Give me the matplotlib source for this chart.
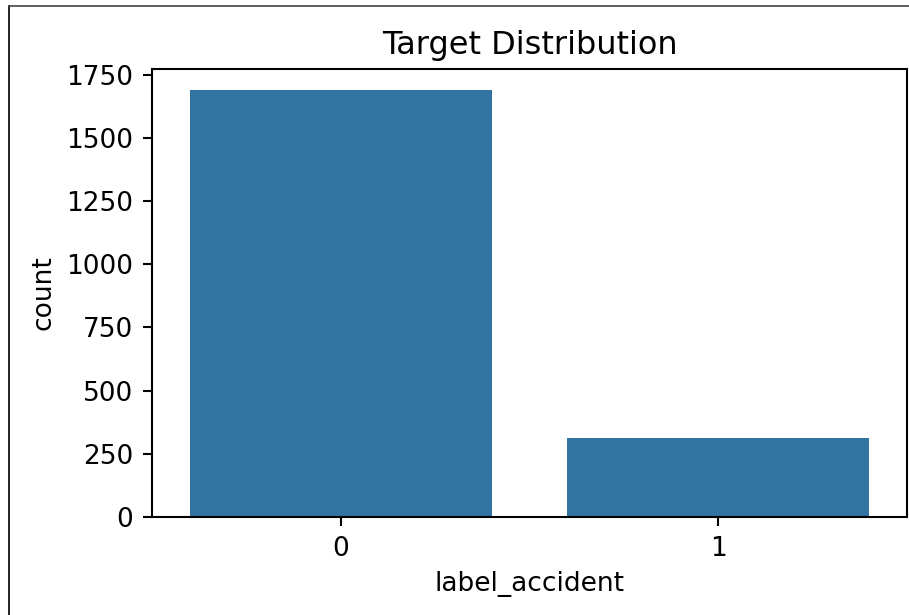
import matplotlib
matplotlib.use("Agg")
import matplotlib.pyplot as plt
from matplotlib.lines import Line2D

categories = ["0", "1"]
counts = [1688, 313]
title = "Target Distribution"
xlabel = "label_accident"
ylabel = "count"

fig = plt.figure(figsize=(9.09, 6.15), dpi=100)
ax = fig.add_axes([0.1672, 0.1593, 0.8306, 0.7285])
x = list(range(len(categories)))
ax.bar(x, counts, width=0.8, color="#3274a1")
ax.set_xlim(-0.5, 1.5)
ax.set_xticks(x)
ax.set_xticklabels(categories)
ax.set_yticks([0, 250, 500, 750, 1000, 1250, 1500, 1750])
ax.set_ylim(0, 1772)
ax.tick_params(labelsize=19, length=6.7, width=1.5, pad=6.7)
for s in ax.spines.values():
    s.set_linewidth(1.5)
ax.set_xlabel(xlabel, fontsize=19, labelpad=7)
ax.set_ylabel(ylabel, fontsize=19, labelpad=7)
ax.set_title(title, fontsize=23, pad=11)

# outer frame lines (left and top)
fig.add_artist(Line2D([8.5/909, 8.5/909], [0, 1 - 5.5/615], transform=fig.transFigure, color="black", lw=1.2))
fig.add_artist(Line2D([8.5/909, 1], [1 - 5.5/615, 1 - 5.5/615], transform=fig.transFigure, color="#444444", lw=1.2))

fig.savefig("out.png", dpi=100)
